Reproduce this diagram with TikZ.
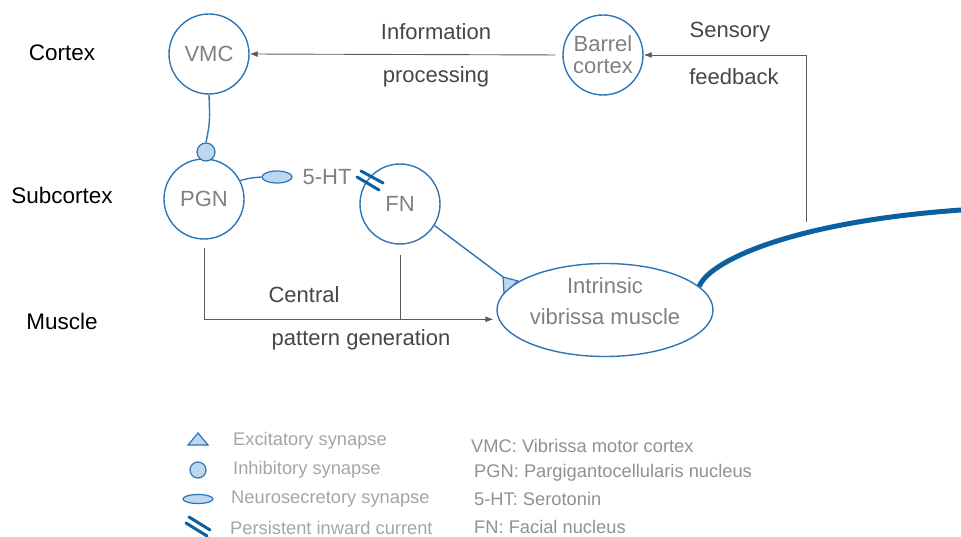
\documentclass[tikz,border=0pt]{standalone}
\usepackage{fontspec}
\setmainfont{Liberation Sans}
\usetikzlibrary{calc, arrows, positioning, shapes.geometric}
\usetikzlibrary{arrows.meta}

\definecolor{nblue}{RGB}{46,117,182}
\definecolor{nerveblue}{RGB}{12,96,160}
\definecolor{synfill}{RGB}{189,215,240}
\definecolor{ntext}{RGB}{128,128,128}
\definecolor{ltext}{RGB}{70,70,70}
\definecolor{legA}{RGB}{165,165,165}
\definecolor{legB}{RGB}{145,145,145}
\definecolor{conn}{RGB}{90,90,90}

\begin{document}
\begin{tikzpicture}[x=1pt,y=-1pt,
        region/.style={draw=nblue,line width=1.4pt,circle,minimum size=80pt,inner sep=0pt,
            text=ntext,font=\fontsize{22}{22}\selectfont,align=center},
        syn/.style={draw=nblue,line width=1.2pt,fill=synfill},
        link/.style={draw=nblue,line width=1.4pt},
        piccurrent/.style={draw=nerveblue,line width=3pt,line cap=round},
        signal/.style={draw=conn,line width=0.9pt},
        tip/.style={-{Latex[length=8pt,width=6pt]}},
        lab/.style={text=ltext,font=\fontsize{22}{22}\selectfont},
        row/.style={text=black,font=\fontsize{22.5}{22.5}\selectfont},
        legtext/.style={anchor=west,inner xsep=0pt,font=\fontsize{18.3}{18.3}\selectfont}]
        \useasboundingbox (0,0) rectangle (961,537);

        %層級
        \node [row] (cortex) at (62,53) {Cortex};
        \node [row] (subcortex) at (62,195) {Subcortex};
        \node [row] (musclerow) at (62,321) {Muscle};

        \node [region] (vmc) at (209,54) {VMC};
        \node [region] (barrel) at (603,55) {Barrel\\cortex};
        \node [region] (pgn) at (204,199) {PGN};
        \node [region] (fn) at (400,204) {FN};
        \node [draw=nblue,line width=1.4pt,ellipse,minimum width=216pt,minimum height=93pt] (muscle) at (605,310) {};
        \node [text=ntext,font=\fontsize{22}{22}\selectfont,align=center] (muscletext) at (605,301) {Intrinsic\\[9pt]vibrissa muscle};

        %突觸
        \node [syn,circle,minimum size=18pt,inner sep=0pt] (inh) at (206,152) {};
        \node [syn,ellipse,minimum width=30pt,minimum height=12pt,inner sep=0pt] (neuro) at (277,177) {};
        \node [lab,text=ntext] (ht) at (327,177) {5-HT};
        \draw[link] (vmc.south) .. controls (210,122) .. (inh.north);
        \draw[link] (pgn.27) .. controls (250,178) .. (neuro.west);
        \draw[piccurrent] (361,171) -- (383,183);
        \draw[piccurrent] (357,177) -- (379,190);
        \coordinate (exc) at (503,277);
        \draw[link] (fn.-32) -- (exc);
        \filldraw[syn] (exc) -- (518,281) -- (504,293) -- cycle;

        %觸鬚
        \draw[draw=nerveblue,line width=5pt] (muscle.14) .. controls (708,262) and (790,222) .. (961,210);

        \draw[signal,tip,shorten <=7pt] (barrel.west) -- (vmc.east);
        \coordinate (fb) at (806,222);
        \draw[signal,tip] (fb) |- (barrel.east);
        \coordinate (cpgend) at ([xshift=-5pt]muscle.185);
        \draw[signal,tip] ([yshift=-8pt]pgn.south) |- (cpgend);
        \draw[signal] ([yshift=-10pt]fn.south) -- (fn.south |- cpgend);

        \node [lab] (info) at (436,32) {Information};
        \node [lab] (proc) at (436,77) {processing};
        \node [lab] (sens) at (730,32) {Sensory};
        \node [lab] (feed) at (734,77) {feedback};
        \node [lab] (central) at (304,295) {Central};
        \node [lab] (pattern) at (361,340) {pattern generation};

        %圖例
        \filldraw[syn] (198,433) -- (208,445) -- (188,445) -- cycle;
        \node [syn,circle,minimum size=16pt,inner sep=0pt] (leginh) at (198,470) {};
        \node [syn,ellipse,minimum width=30pt,minimum height=9pt,inner sep=0pt] (legneuro) at (198,499) {};
        \draw[piccurrent] (189,517) -- (210,530);
        \draw[piccurrent] (186,523) -- (207,536);
        \node [legtext,text=legA] (legexc) at (233,441) {Excitatory synapse};
        \node [legtext,text=legA] (leginhtext) at (233,470) {Inhibitory synapse};
        \node [legtext,text=legA] (legneurotext) at (231,499) {Neurosecretory synapse};
        \node [legtext,text=legA] (legpic) at (230,528) {Persistent inward current};
        \node [legtext,text=legB] (abbvmc) at (471,446) {VMC: Vibrissa motor cortex};
        \node [legtext,text=legB] (abbpgn) at (474,473) {PGN: Pargigantocellularis nucleus};
        \node [legtext,text=legB] (abbht) at (474,499) {5-HT: Serotonin};
        \node [legtext,text=legB] (abbfn) at (474,527) {FN: Facial nucleus};
\end{tikzpicture}
\end{document}
